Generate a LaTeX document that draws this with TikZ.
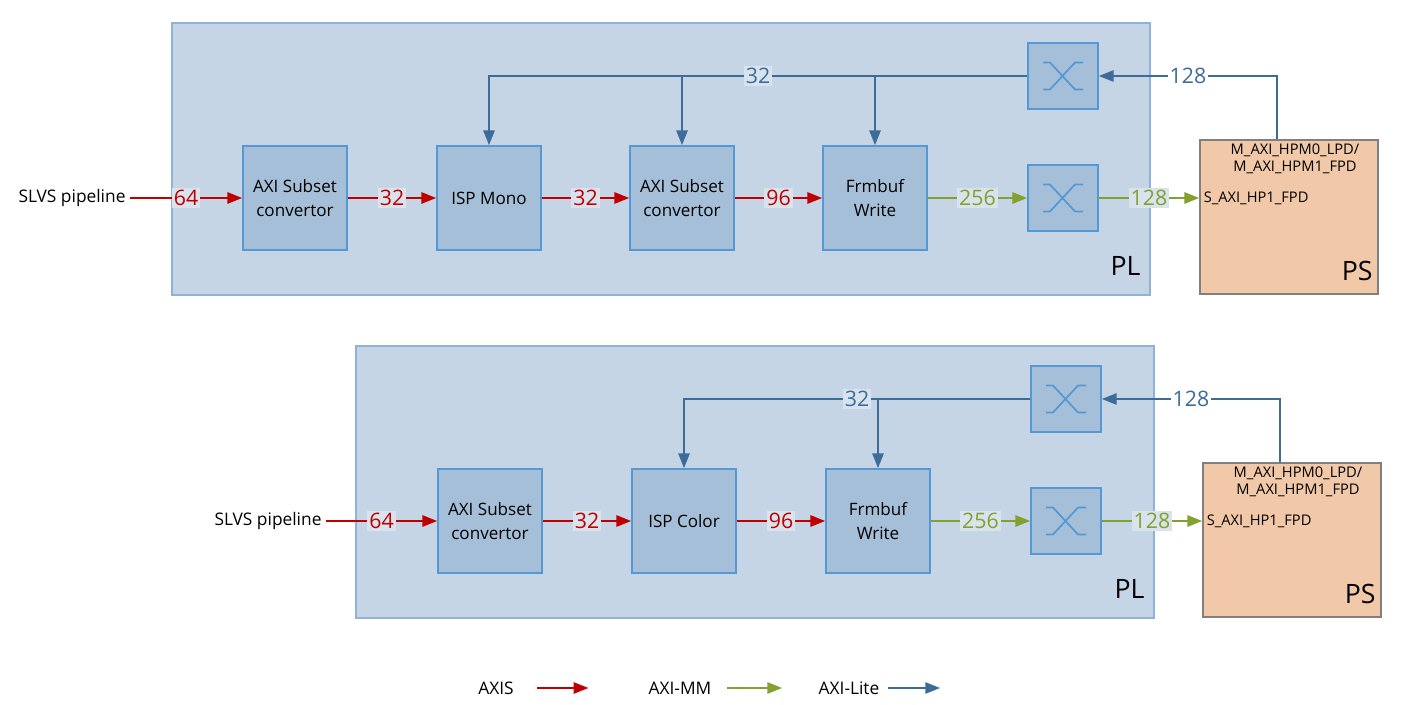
\documentclass[tikz,border=0pt]{standalone}
\usepackage{fontspec}
\setmainfont{Open Sans}
\usepackage{xcolor}
\usetikzlibrary{arrows.meta}
\definecolor{plfill}{RGB}{197,213,229}
\definecolor{plline}{RGB}{143,178,214}
\definecolor{lblfill}{RGB}{216,227,238}
\definecolor{blkfill}{RGB}{166,191,216}
\definecolor{blkline}{RGB}{84,152,212}
\definecolor{axisred}{RGB}{192,0,0}
\definecolor{mmgreen}{RGB}{132,160,46}
\definecolor{liteblue}{RGB}{62,108,152}
\definecolor{psfill}{RGB}{241,201,168}
\tikzset{
  plbox/.style={draw=plline,line width=1.1pt,fill=plfill,minimum width=#1,minimum height=204pt},
  blk/.style={draw=blkline,line width=1.3pt,fill=blkfill,minimum size=78pt,align=center,
    font=\fontsize{12.8}{17.5}\selectfont},
  sw/.style={draw=blkline,line width=1.3pt,fill=blkfill,minimum width=52.5pt,minimum height=49.5pt},
  psbox/.style={draw=black!50,line width=1.3pt,fill=psfill,minimum width=133.5pt,minimum height=115.5pt},
  pstxt/.style={font=\fontsize{11}{13}\selectfont,align=center,inner sep=1pt},
  big/.style={font=\fontsize{20}{20}\selectfont,inner sep=0pt},
  txt/.style={font=\fontsize{13}{15}\selectfont},
  num/.style={fill=lblfill,inner sep=1.5pt,font=\fontsize{16}{16}\selectfont},
  axis/.style={color=axisred,line width=1.1pt},
  mm/.style={color=mmgreen,line width=1.1pt},
  lite/.style={color=liteblue,line width=1.1pt},
  icon/.style={draw=blkline,line width=1.3pt}
}

\begin{document}
\begin{tikzpicture}[x=0.75pt,y=-0.75pt,>={Triangle[length=11pt,width=8.5pt]}]
  \useasboundingbox (0,0) rectangle (1416,705);
  % top
  \node[plbox=733.5pt] (plA) at (661,159) {};
  \node[big,anchor=base east] at ([shift={(-10,-20)}]plA.south east) {PL};
  \node[psbox] (psA) at (1289,217) {};
  \node[big,anchor=base east] at ([shift={(-6,-14)}]psA.south east) {PS};
  \node[pstxt,anchor=north] at ([shift={(6,3)}]psA.north) {M\_AXI\_HPM0\_LPD/\\M\_AXI\_HPM1\_FPD};
  \node[txt] (slvsA) at (72,198) {SLVS pipeline};
  \node[blk] (axA) at (295,198) {AXI Subset\\convertor};
  \node[blk] (ispM) at (489,198) {ISP Mono};
  \node[blk] (axB) at (682,198) {AXI Subset\\convertor};
  \node[blk] (fbA) at (875,198) {Frmbuf\\Write};
  \node[sw] (swA) at (1063,76) {};
  \node[sw] (swB) at (1063,198) {};
  \node[pstxt,anchor=west] at ([shift={(3,0)}]psA.west |- swB.east) {S\_AXI\_HP1\_FPD};
  \draw[axis,->] (slvsA.east) -- (axA.west) node[num,midway] {64};
  \draw[axis,->] (axA.east) -- (ispM.west) node[num,midway] {32};
  \draw[axis,->] (ispM.east) -- (axB.west) node[num,midway] {32};
  \draw[axis,->] (axB.east) -- (fbA.west) node[num,midway] {96};
  \draw[mm,->] (fbA.east) -- (swB.west) node[num,midway] {256};
  \draw[mm,->] (swB.east) -- (swB.east -| psA.west) node[num,midway] {128};
  \draw[lite,->] (swA.west) -| (ispM.north) node[num,pos=0.25] {32};
  \draw[lite,->] (axB.north |- swA.west) -- (axB.north);
  \draw[lite,->] (fbA.north |- swA.west) -- (fbA.north);
  \draw[lite,->] ([shift={(-12,0)}]psA.north) |- (swA.east) node[num,fill=white,pos=0.75] {128};
  % bottom
  \node[plbox=598.5pt] (plB) at (755,482) {};
  \node[big,anchor=base east] at ([shift={(-10,-20)}]plB.south east) {PL};
  \node[psbox] (psB) at (1292,540) {};
  \node[big,anchor=base east] at ([shift={(-6,-14)}]psB.south east) {PS};
  \node[pstxt,anchor=north] at ([shift={(6,3)}]psB.north) {M\_AXI\_HPM0\_LPD/\\M\_AXI\_HPM1\_FPD};
  \node[txt] (slvsB) at (268,521) {SLVS pipeline};
  \node[blk] (axC) at (490,521) {AXI Subset\\convertor};
  \node[blk] (ispC) at (684,521) {ISP Color};
  \node[blk] (fbB) at (878,521) {Frmbuf\\Write};
  \node[sw] (swC) at (1066,399) {};
  \node[sw] (swD) at (1066,521) {};
  \node[pstxt,anchor=west] at ([shift={(3,0)}]psB.west |- swD.east) {S\_AXI\_HP1\_FPD};
  \draw[axis,->] (slvsB.east) -- (axC.west) node[num,midway] {64};
  \draw[axis,->] (axC.east) -- (ispC.west) node[num,midway] {32};
  \draw[axis,->] (ispC.east) -- (fbB.west) node[num,midway] {96};
  \draw[mm,->] (fbB.east) -- (swD.west) node[num,midway] {256};
  \draw[mm,->] (swD.east) -- (swD.east -| psB.west) node[num,midway] {128};
  \draw[lite,->] (swC.west) -| (ispC.north) node[num,pos=0.25] {32};
  \draw[lite,->] (fbB.north |- swC.west) -- (fbB.north);
  \draw[lite,->] ([shift={(-12,0)}]psB.north) |- (swC.east) node[num,fill=white,pos=0.75] {128};
  \foreach \s in {swA,swB,swC,swD}
    \draw[icon] ([shift={(-20,-13.5)}]\s.center) -- ++(7,0) -- ++(25,27) -- ++(8,0)
      ([shift={(-20,13.5)}]\s.center) -- ++(7,0) -- ++(25,-27) -- ++(8,0);
  % legend
  \node[txt] (lgAxis) at (496,688) {AXIS};
  \node[txt] (lgMm) at (680,688) {AXI-MM};
  \node[txt] (lgLite) at (849,688) {AXI-Lite};
  \draw[axis,->] ([shift={(19,0)}]lgAxis.east) -- ([shift={(70,0)}]lgAxis.east);
  \draw[mm,->] ([shift={(11,0)}]lgMm.east) -- ([shift={(66,0)}]lgMm.east);
  \draw[lite,->] ([shift={(4,0)}]lgLite.east) -- ([shift={(56,0)}]lgLite.east);
\end{tikzpicture}
\end{document}
